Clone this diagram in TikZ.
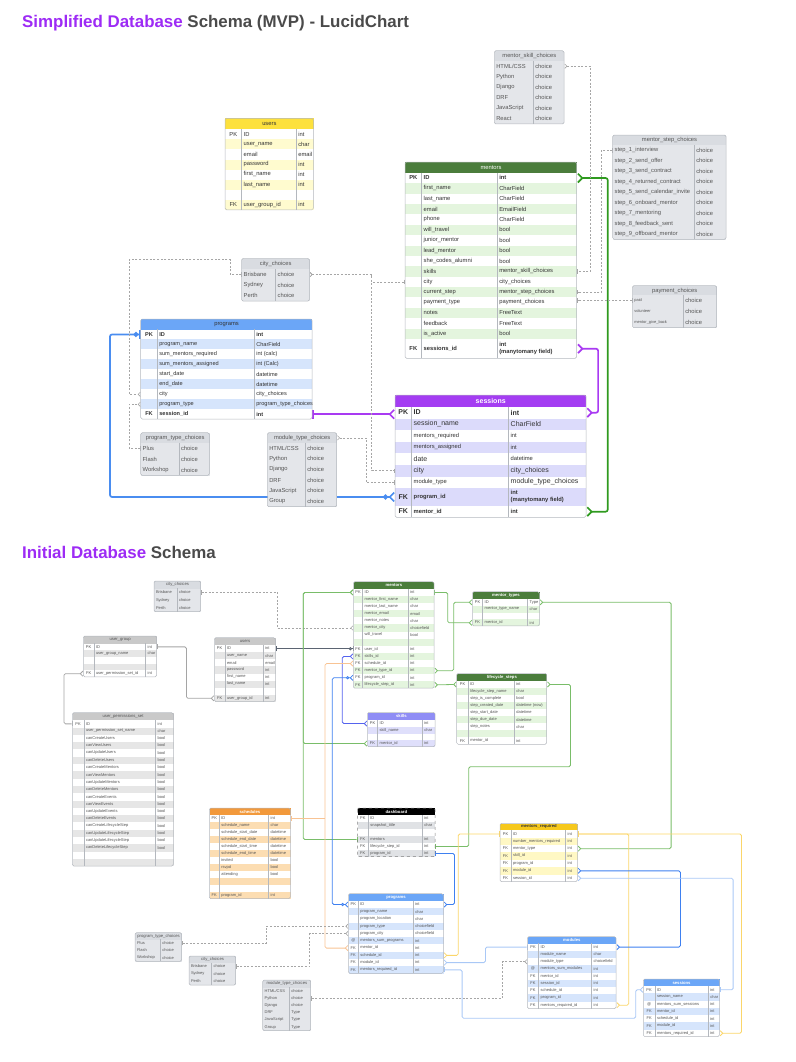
\documentclass[tikz,border=0pt]{standalone}
\usepackage{fontspec}
\setmainfont{Liberation Sans}
\usepackage{tikz}
\usetikzlibrary{arrows.meta,backgrounds}

\definecolor{ttlpurple}{HTML}{9D2BF5}
\definecolor{ttlgray}{HTML}{4A4A4A}
\definecolor{txtdark}{HTML}{333333}
\definecolor{txtgray}{HTML}{555555}
\definecolor{tbborder}{HTML}{B4B8BE}
\definecolor{hgreen}{HTML}{4B7D3C}
\definecolor{rgreen}{HTML}{E4F5DE}
\definecolor{hpurple}{HTML}{A43DF2}
\definecolor{rpurple}{HTML}{DCDBFB}
\definecolor{hblue}{HTML}{6BA6F7}
\definecolor{rblue}{HTML}{D6E5FC}
\definecolor{hyellow}{HTML}{FDE13D}
\definecolor{ryellow}{HTML}{FFFBCF}
\definecolor{hchoice}{HTML}{D9DCE1}
\definecolor{rchoice}{HTML}{E4E6EA}
\definecolor{hgraytab}{HTML}{C9C9C9}
\definecolor{rgraytab}{HTML}{E6E6E6}
\definecolor{horange}{HTML}{F2993B}
\definecolor{rorange}{HTML}{FCDDB2}
\definecolor{hgold}{HTML}{F6C81C}
\definecolor{rgold}{HTML}{FFF8C4}
\definecolor{hskill}{HTML}{8F8DF5}
\definecolor{rskill}{HTML}{DFDFFB}
\definecolor{rdash}{HTML}{E0E2E5}
\definecolor{lgreen}{HTML}{2F9A1F}
\definecolor{lpurple}{HTML}{A93AF2}
\definecolor{lblue}{HTML}{4A8DF0}
\definecolor{lgreenb}{HTML}{79BD69}
\definecolor{lblueb}{HTML}{3E80F0}
\definecolor{lbluel}{HTML}{A9C8F6}
\definecolor{lskill}{HTML}{5563EE}
\definecolor{lorange}{HTML}{F8C393}
\definecolor{lgold}{HTML}{FBD66A}
\definecolor{ldark}{HTML}{5B6472}
\definecolor{lgray}{HTML}{A5A5A5}

\tikzset{
  Crow/.tip={Straight Barb[reversed,length=1pt 2,width=2pt 4]},
  One/.tip={Bar[width=2pt 4]},
  ZCrow/.tip={Circle[fill=white,length=1.5pt 2,sep=0.6pt] Straight Barb[reversed,length=1pt 2,width=2pt 4]},
  ZOne/.tip={Circle[fill=white,length=1.5pt 2,sep=0.6pt] Bar[width=2pt 4]},
  tbhead/.style={anchor=north west, inner sep=0pt, draw=none},
  tbrow/.style={anchor=north west, inner sep=0pt, draw=none},
  tbtxt/.style={inner sep=0pt, anchor=west, align=left, text=\tbrtext,
    font=\fontsize{\tbfs pt}{\tbls pt}\selectfont},
  tbsep/.style={draw=tbborder, line width=0.5pt},
  tline/.style={line width=1.7pt, rounded corners=2pt},
  cline/.style={line width=0.8pt, rounded corners=1.5pt},
  dline/.style={draw=gray!70, line width=0.6pt, dash pattern=on 2pt off 1.6pt},
  ttl/.style={anchor=base west, inner sep=0pt, text=ttlgray,
    font=\fontsize{16.9pt}{20pt}\selectfont\bfseries}
}

% table options
\pgfkeys{/tb/.cd,
  kw/.store in=\tbkw, nw/.store in=\tbnw, tw/.store in=\tbtw,
  rh/.store in=\tbrh, hh/.store in=\tbhh,
  head/.store in=\tbhead, stripe/.store in=\tbstripe, base/.store in=\tbbase,
  htext/.store in=\tbhtext, rtext/.store in=\tbrtext,
  fs/.store in=\tbfs, hfs/.store in=\tbhfs,
  big/.store in=\tbbig, bigf/.store in=\tbbigf,
  frame/.code={\tikzset{tbframe/.style={#1}}}}
\newcommand{\tbreset}{\pgfkeys{/tb/.cd, kw=0, nw=40, tw=20, rh=7, hh=7,
  head=hchoice, stripe=rchoice, base=rchoice, htext=txtgray, rtext=txtgray,
  fs=4, hfs=4.2, big=0, bigf=1, frame={}}}
\newcommand{\bigtxt}[1]{{\fontsize{7pt}{8pt}\selectfont #1}}
\newcommand{\smtxt}[1]{{\fontsize{4pt}{5pt}\selectfont #1}}

% table: [options]{name}{x}{y}{title}{key/name/type, ...}
\newcommand{\dbtable}[6][]{%
  \tbreset\pgfkeys{/tb/.cd,#1}%
  \pgfmathsetmacro\tbW{\tbkw+\tbnw+\tbtw}%
  \pgfmathsetmacro\tbls{1.2*\tbfs}%
  \node[tbhead, fill=\tbhead, text=\tbhtext, minimum width=\tbW pt, minimum height=\tbhh pt,
    font=\fontsize{\tbhfs pt}{\tbhfs pt}\selectfont] (#2) at (#3,#4) {#5};
  \pgfmathsetmacro\tbnext{#4+\tbhh}\global\let\tbcury\tbnext
  \foreach [count=\i] \ky/\nm/\ty in {#6}{%
    \pgfmathsetmacro\tbh{\i==\tbbig ? \tbbigf*\tbrh : \tbrh}%
    \ifodd\i\relax\def\tbfill{\tbbase}\else\def\tbfill{\tbstripe}\fi
    \node[tbrow, fill=\tbfill, minimum width=\tbW pt, minimum height=\tbh pt] (#2-\i) at (#3,\tbcury) {};
    \node[tbtxt, anchor=center] (#2-\i-k) at (#3+\tbkw/2,\tbcury+\tbh/2) {\ky};
    \node[tbtxt] (#2-\i-n) at (#3+\tbkw+1.8,\tbcury+\tbh/2) {\nm};
    \node[tbtxt] (#2-\i-t) at (#3+\tbkw+\tbnw+1.8,\tbcury+\tbh/2) {\ty};
    \pgfmathsetmacro\tbnext{\tbcury+\tbh}\global\let\tbcury\tbnext
  }%
  \ifdim\tbkw pt>0pt \draw[tbsep] (#3+\tbkw,#4+\tbhh) -- (#3+\tbkw,\tbcury);\fi
  \draw[tbsep] (#3+\tbkw+\tbnw,#4+\tbhh) -- (#3+\tbkw+\tbnw,\tbcury);
  \draw[tbsep, rounded corners=1.5pt, tbframe] (#3,#4) rectangle (#3+\tbW,\tbcury);
}

\begin{document}
\catcode`\_=12
\begin{tikzpicture}[x=1pt, y=-1pt]
\useasboundingbox (0,0) rectangle (795,1062);

%%% simplified schema

\node[ttl] (t1) at (22,28) {\textcolor{ttlpurple}{Simplified Database} Schema (MVP) - LucidChart};

    % TABLE users
\dbtable[kw=16.7, nw=54.6, tw=17, hh=10.7, rh=10.1, head=hyellow, stripe=ryellow, base=white,
  htext=txtdark, rtext=txtdark, fs=5.8, hfs=5.8]{susers}{225}{118.3}{users}
  {PK/ID/int, /user_name/char, /email/email, /password/int, /first_name/int, /last_name/int, //, FK/user_group_id/int}

    % TABLE mentors
\dbtable[kw=16.7, nw=75.6, tw=79.4, hh=10.7, rh=10.38, big=17, bigf=1.88, head=hgreen, stripe=rgreen,
  base=white, htext=white, rtext=txtdark, fs=5.8, hfs=5.8]{smentors}{405}{162}{mentors}
  {\textbf{PK}/\textbf{ID}/\textbf{int}, /first_name/CharField, /last_name/CharField, /email/EmailField,
   /phone/CharField, /will_travel/bool, /junior_mentor/bool, /lead_mentor/bool, /she_codes_alumni/bool,
   /skills/mentor_skill_choices, /city/city_choices, /current_step/mentor_step_choices,
   /payment_type/payment_choices, /notes/FreeText, /feedback/FreeText, /is_active/bool,
   \textbf{FK}/\textbf{sessions_id}/{\textbf{int}\\\textbf{(manytomany field)}}}

    % TABLE programs
\dbtable[kw=16.6, nw=97, tw=57.7, hh=10.3, rh=9.97, head=hblue, stripe=rblue, base=white,
  htext=txtdark, rtext=txtdark, fs=5.6, hfs=5.8]{sprograms}{140.7}{319}{programs}
  {\textbf{PK}/\textbf{ID}/\textbf{int}, /program_name/CharField, /sum_mentors_required/int (calc),
   /sum_mentors_assigned/int (Calc), /start_date/datetime, /end_date/datetime, /city/city_choices,
   /program_type/program_type_choices, \textbf{FK}/\textbf{session_id}/\textbf{int}}

    % TABLE sessions
\dbtable[kw=16.7, nw=97, tw=77.3, hh=11.7, rh=11.6, big=8, bigf=1.53, head=hpurple, stripe=rpurple,
  base=white, htext=white, rtext=txtdark, fs=5.8, hfs=7]{ssessions}{395}{395}{\textbf{sessions}}
  {\bigtxt{\textbf{PK}}/\bigtxt{\textbf{ID}}/\bigtxt{\textbf{int}}, /\bigtxt{session_name}/\bigtxt{CharField},
   /mentors_required/int, /mentors_assigned/int, /\bigtxt{date}/datetime, /\bigtxt{city}/\bigtxt{city_choices},
   /module_type/\bigtxt{module_type_choices},
   \bigtxt{\textbf{FK}}/\textbf{program_id}/{\textbf{int}\\\textbf{(manytomany field)}},
   \bigtxt{\textbf{FK}}/\textbf{mentor_id}/\textbf{int}}

    % TABLES choices
\dbtable[nw=34, tw=33.6, hh=10.7, rh=10.7, fs=5.8, hfs=5.8]{scity}{241.7}{258.3}{city_choices}
  {/Brisbane/choice, /Sydney/choice, /Perth/choice}
\dbtable[nw=38.3, tw=30.3, hh=10, rh=10.9, fs=5.8, hfs=5.8]{sptype}{140.7}{432.7}{program_type_choices}
  {/Plus/choice, /Flash/choice, /Workshop/choice}
\dbtable[nw=38, tw=31.4, hh=10, rh=10.67, fs=5.8, hfs=5.8]{smtype}{267.3}{432.7}{module_type_choices}
  {/{HTML/CSS}/choice, /Python/choice, /Django/choice, /DRF/choice, /JavaScript/choice, /Group/choice}
\dbtable[nw=39, tw=30.7, hh=10, rh=10.55, fs=5.8, hfs=5.8]{sskill}{494.3}{50.7}{mentor_skill_choices}
  {/{HTML/CSS}/choice, /Python/choice, /Django/choice, /DRF/choice, /JavaScript/choice, /React/choice}
\dbtable[nw=81.6, tw=31.7, hh=10, rh=10.48, fs=5.8, hfs=5.8]{sstep}{612.7}{135}{mentor_step_choices}
  {/step_1_interview/choice, /step_2_send_offer/choice, /step_3_send_contract/choice,
   /step_4_returned_contract/choice, /step_5_send_calendar_invite/choice, /step_6_onboard_mentor/choice,
   /step_7_mentoring/choice, /step_8_feedback_sent/choice, /step_9_offboard_mentor/choice}
\dbtable[nw=51, tw=33.4, hh=9.3, rh=10.9, fs=5.8, hfs=5.8]{spay}{632.3}{285.7}{payment_choices}
  {/\smtxt{paid}/choice, /\smtxt{volunteer}/choice, /\smtxt{mentor_give_back}/choice}

%%% initial schema

\node[ttl] (t2) at (22,558) {\textcolor{ttlpurple}{Initial Database} Schema};

    % TABLES grey
\dbtable[nw=23, tw=23.7, hh=7.3, rh=7.8]{icity1}{154}{581}{city_choices}
  {/Brisbane/choice, /Sydney/choice, /Perth/choice}
\dbtable[kw=10.7, nw=51.7, tw=11, hh=7.3, rh=6.7, head=hgraytab, stripe=rgraytab, base=white]{iugroup}{83.3}{636}{user_group}
  {PK/ID/int, /user_group_name/char, //, //, FK/user_permission_set_id/int}
\dbtable[kw=10.7, nw=38.3, tw=12, hh=7.3, rh=7.08, head=hgraytab, stripe=rgraytab, base=white]{iusers}{214.3}{637.7}{users}
  {PK/ID/int, /user_name/char, /email/email, /password/int, /first_name/int, /last_name/int, //, FK/user_group_id/int}
\dbtable[kw=11.7, nw=71.7, tw=17.6, hh=7.3, rh=7.3, head=hgraytab, stripe=rgraytab, base=white]{iperm}{72.3}{712.7}{user_permissions_set}
  {PK/ID/int, /user_permission_set_name/char, /canCreateUsers/bool, /canViewUsers/bool, /canUpdateUsers/bool,
   /canDeleteUsers/bool, /canCreateMentors/bool, /canViewMentors/bool, /canUpdateMentors/bool,
   /canDeleteMentors/bool, /canCreateEvents/bool, /canViewEvents/bool, /canUpdateEvents/bool,
   /canDeleteEvents/bool, /canCreateLifecycleStep/bool, /canUpdateLifecycleStep/bool,
   /canUpdateLifecycleStep/bool, /canDeleteLifecycleStep/bool, //, //}

    % TABLES green
\dbtable[kw=9.4, nw=45.6, tw=25.7, hh=7, rh=7.11, head=hgreen, stripe=rgreen, base=white, htext=white]{imentors}{353.3}{581.7}{\textbf{mentors}}
  {PK/ID/int, /mentor_first_name/char, /mentor_last_name/char, /mentor_email/email, /mentor_notes/char,
   /mentor_city/choicefield, /will_travel/bool, //, FK/user_id/int, FK/skills_id/int, FK/schedule_id/int,
   FK/mentor_type_id/int, FK/program_id/int, FK/lifecycle_step_id/int}
\dbtable[kw=10.4, nw=45, tw=11.6, hh=7, rh=6.82, head=hgreen, stripe=rgreen, base=white, htext=white]{imtypes}{472.3}{591.7}{\textbf{mentor_types}}
  {PK/ID/Type, /mentor_type_name/char, //, FK/mentor_id/int}
\dbtable[kw=11.6, nw=46, tw=32.4, hh=7.4, rh=7.07, head=hgreen, stripe=rgreen, base=white, htext=white]{ilife}{456.7}{673.3}{\textbf{lifecycle_steps}}
  {PK/ID/int, /lifecycle_step_name/char, /step_is_complete/bool, /step_created_date/datetime (now),
   /step_start_date/datetime, /step_due_date/datetime, /step_notes/char, //, FK/mentor_id/int}

    % TABLE skills
\dbtable[kw=10.4, nw=44.6, tw=12.7, hh=7.7, rh=6.68, head=hskill, stripe=rskill, base=white, htext=white]{iskills}{367.3}{712.3}{\textbf{skills}}
  {PK/ID/int, /skill_name/char, //, FK/mentor_id/int}

    % TABLE schedules
\dbtable[kw=10, nw=49.4, tw=21.6, hh=6.7, rh=7, head=horange, stripe=rorange, base=white, htext=white]{isched}{209.3}{808}{\textbf{schedules}}
  {PK/ID/int, /schedule_name/char, /schedule_start_date/datetime, /schedule_end_date/datetime,
   /schedule_start_time/datetime, /schedule_end_time/datetime, /invited/bool, /rsvpd/bool, /attending/bool,
   //, //, FK/program_id/int}

    % TABLE dashboard
\dbtable[kw=11, nw=54, tw=12.7, hh=7, rh=6.95, head=black, stripe=rdash, base=white, htext=white,
  frame={dashed, draw=gray}]{idash}{357.3}{808}{\textbf{dashboard}}
  {PK/ID/int, /snapshot_title/char, //, FK/mentors/int, FK/lifecycle_step_id/int, FK/program_id/int}

    % TABLES blue
\dbtable[kw=10, nw=55, tw=30, hh=7, rh=7.26, head=hblue, stripe=rblue, base=white, htext=white]{iprog}{348.3}{893.7}{\textbf{programs}}
  {PK/ID/int, /program_name/char, /program_location/char, /program_type/choicefield, /program_city/choicefield,
   @/mentors_sum_programs/int, FK/mentor_id/int, FK/schedule_id/int, FK/module_id/int, FK/mentors_required_id/int}
\dbtable[kw=11.4, nw=53, tw=24.3, hh=6.6, rh=7.26, head=hblue, stripe=rblue, base=white, htext=white]{imod}{527.3}{936.7}{\textbf{modules}}
  {PK/ID/int, /module_name/char, /module_type/choicefield, @/mentors_sum_modules/int, FK/mentor_id/int,
   FK/session_id/int, FK/schedule_id/int, FK/program_id/int, FK/mentors_required_id/int}
\dbtable[kw=11.7, nw=53.3, tw=11, hh=7, rh=7.24, head=hblue, stripe=rblue, base=white, htext=white]{isess}{643.3}{979}{\textbf{sessions}}
  {PK/ID/int, /session_name/char, @/mentors_sum_sessions/int, FK/mentor_id/int, FK/schedule_id/int,
   FK/module_id/int, FK/mentors_required_id/int}

    % TABLE mentors_required
\dbtable[kw=11, nw=54.7, tw=11.6, hh=6.7, rh=7.39, head=hgold, stripe=rgold, base=white, htext=txtdark]{ireq}{500}{823.3}{\textbf{mentors_required}}
  {PK/ID/int, /number_mentors_required/int, FK/mentor_type/int, FK/skill_id/int, FK/program_id/int,
   FK/module_id/int, FK/session_id/int}

    % TABLES choices
\dbtable[nw=25.3, tw=21.4, hh=6.6, rh=7.33]{iptype}{135}{932.7}{program_type_choices}
  {/Plus/choice, /Flash/choice, /Workshop/choice}
\dbtable[nw=22.7, tw=24, hh=6.7, rh=7.43]{icity2}{189}{956}{city_choices}
  {/Brisbane/choice, /Sydney/choice, /Perth/choice}
\dbtable[nw=26.6, tw=21.4, hh=7.3, rh=7.23]{imtype}{262.7}{980}{module_type_choices}
  {/{HTML/CSS}/choice, /Python/choice, /Django/choice, /DRF/Type, /JavaScript/Type, /Group/Type}

%%% links

\begin{scope}[on background layer]
% simplified
\draw[tline, lgreen, Crow-Crow] (smentors-1.east) -- ++(30.6,0) |- (ssessions-9.east);
\draw[tline, lpurple, Crow-Crow] (smentors-17.east) -- ++(21,0) |- (ssessions-1.east);
\draw[tline, lpurple, One-Crow] (sprograms-9.east) -- (ssessions-1.west |- sprograms-9.east);
\draw[tline, lblue, ZOne-ZCrow] (sprograms-1.west) -- ++(-30.7,0) |- (ssessions-8.west);
\draw[dline, Crow-One] (scity-1.east) -- ++(62,0) |- (smentors-11.west);
\draw[dline, Crow-One] (scity-1.east) -- ++(62,0) |- (ssessions-6.west);
\draw[dline, One-Crow] (scity-1.west) -- ++(-11.7,0) -- ++(0,-15) -| ([xshift=-11.4pt]sprograms-7.west) -- (sprograms-7.west);
\draw[dline, One-Crow] (sptype-1.west) -- ++(-11.4,0) |- (sprograms-8.west);
\draw[dline, Crow-One] (sskill-1.east) -- ++(25.7,0) |- (smentors-10.east);
\draw[dline, One-One] (sstep-1.west) -- ++(-11.4,0) |- (smentors-12.east);
\draw[dline, One-One] (spay-1.west) -- (smentors-13.east |- spay-1.west);
\draw[dline, Crow-One] (smtype.east) -- ++(29,0) |- (ssessions-7.west);

% initial
\draw[dline, One-Crow] (icity1-1.east) -- ++(76,0) |- (imentors-6.west);
\draw[cline, lgray, One-Crow] (iugroup-1.east) -- ++(29.3,0) |- (iusers-8.west);
\draw[cline, lgray, Crow-One] (iugroup-5.west) -- ++(-19.3,0) |- (iperm-1.west);
\draw[cline, ldark, One-ZOne] (iusers-1.east) -- (imentors-9.west |- iusers-1.east);
\draw[cline, lgreenb, Crow-Crow] (iskills-4.west) -- ++(-64,0) |- (imentors-1.west);
\draw[cline, lgreenb, One-Crow] (idash-4.west) -- ++(-54,0) |- (imentors-1.west);
\draw[cline, lskill, Crow-Crow] (imentors-10.west) -- ++(-11,0) |- (iskills-1.west);
\draw[cline, lorange, Crow-Crow] (imentors-11.west) -- ++(-28.3,0) |- (iprog-7.west);
\draw[cline, lorange, One-] (isched-1.east) -- ++(34.7,0);
\draw[cline, lblueb, ZCrow-ZCrow] (imentors-13.west) -- ++(-21,0) |- (iprog-1.west);
\draw[cline, lgreenb, One-Crow] (imentors-1.east) -- ++(13.3,0) |- (imtypes-4.west);
\draw[cline, lgreenb, Crow-Crow] (imentors-12.east) -- ++(19.3,0) |- (imtypes-1.west);
\draw[cline, lgreenb, Crow-Crow] (imentors-14.east) -- (ilife-1.west);
\draw[cline, lgreenb, Crow-Crow] (imtypes-1.east) -- ++(131.4,0) |- (ireq-3.east);
\draw[cline, lgreenb, One-Crow] (idash-5.east) -- ++(33.3,0) -- ++(0,-79.7) -| ([xshift=23.3pt]ilife-1.east) -- (ilife-1.east);
\draw[cline, lblueb, One-Crow] (idash-6.east) -- ++(19,0) |- (iprog-1.east);
\draw[dline, One-Crow] (iptype-1.east) -- ++(84,0) |- (iprog-4.west);
\draw[dline, One-Crow] (icity2-1.east) -- ++(73.6,0) |- (iprog-5.west);
\draw[dline, One-Crow] (imtype-2.east) -- ++(191,0) |- (imod-3.west);
\draw[cline, lgold, One-Crow] (ireq-1.west) -- ++(-41.7,0) |- (iprog-8.east);
\draw[cline, lgold, One-Crow] (ireq-1.east) -- ++(51,0) |- (imod-9.east);
\draw[cline, lgold, One-Crow] (ireq-1.east) -- ++(163.7,0) |- (isess-7.east);
\draw[cline, lblueb, Crow-Crow] (ireq-6.east) -- ++(102.7,0) |- (imod-1.east);
\draw[cline, lbluel, Crow-One] (ireq-7.east) -- ++(155.4,0) |- (isess-1.east);
\draw[cline, lbluel, Crow-One] (iprog-9.east) -- ++(41.7,0) |- (imod-1.west);
\draw[cline, lbluel, One-Crow] (iprog-10.east) -- ++(18.4,0) -- ++(0,48.4) -| ([xshift=-7.6pt]isess-1.west) -- (isess-1.west);
\end{scope}
\end{tikzpicture}
\end{document}
